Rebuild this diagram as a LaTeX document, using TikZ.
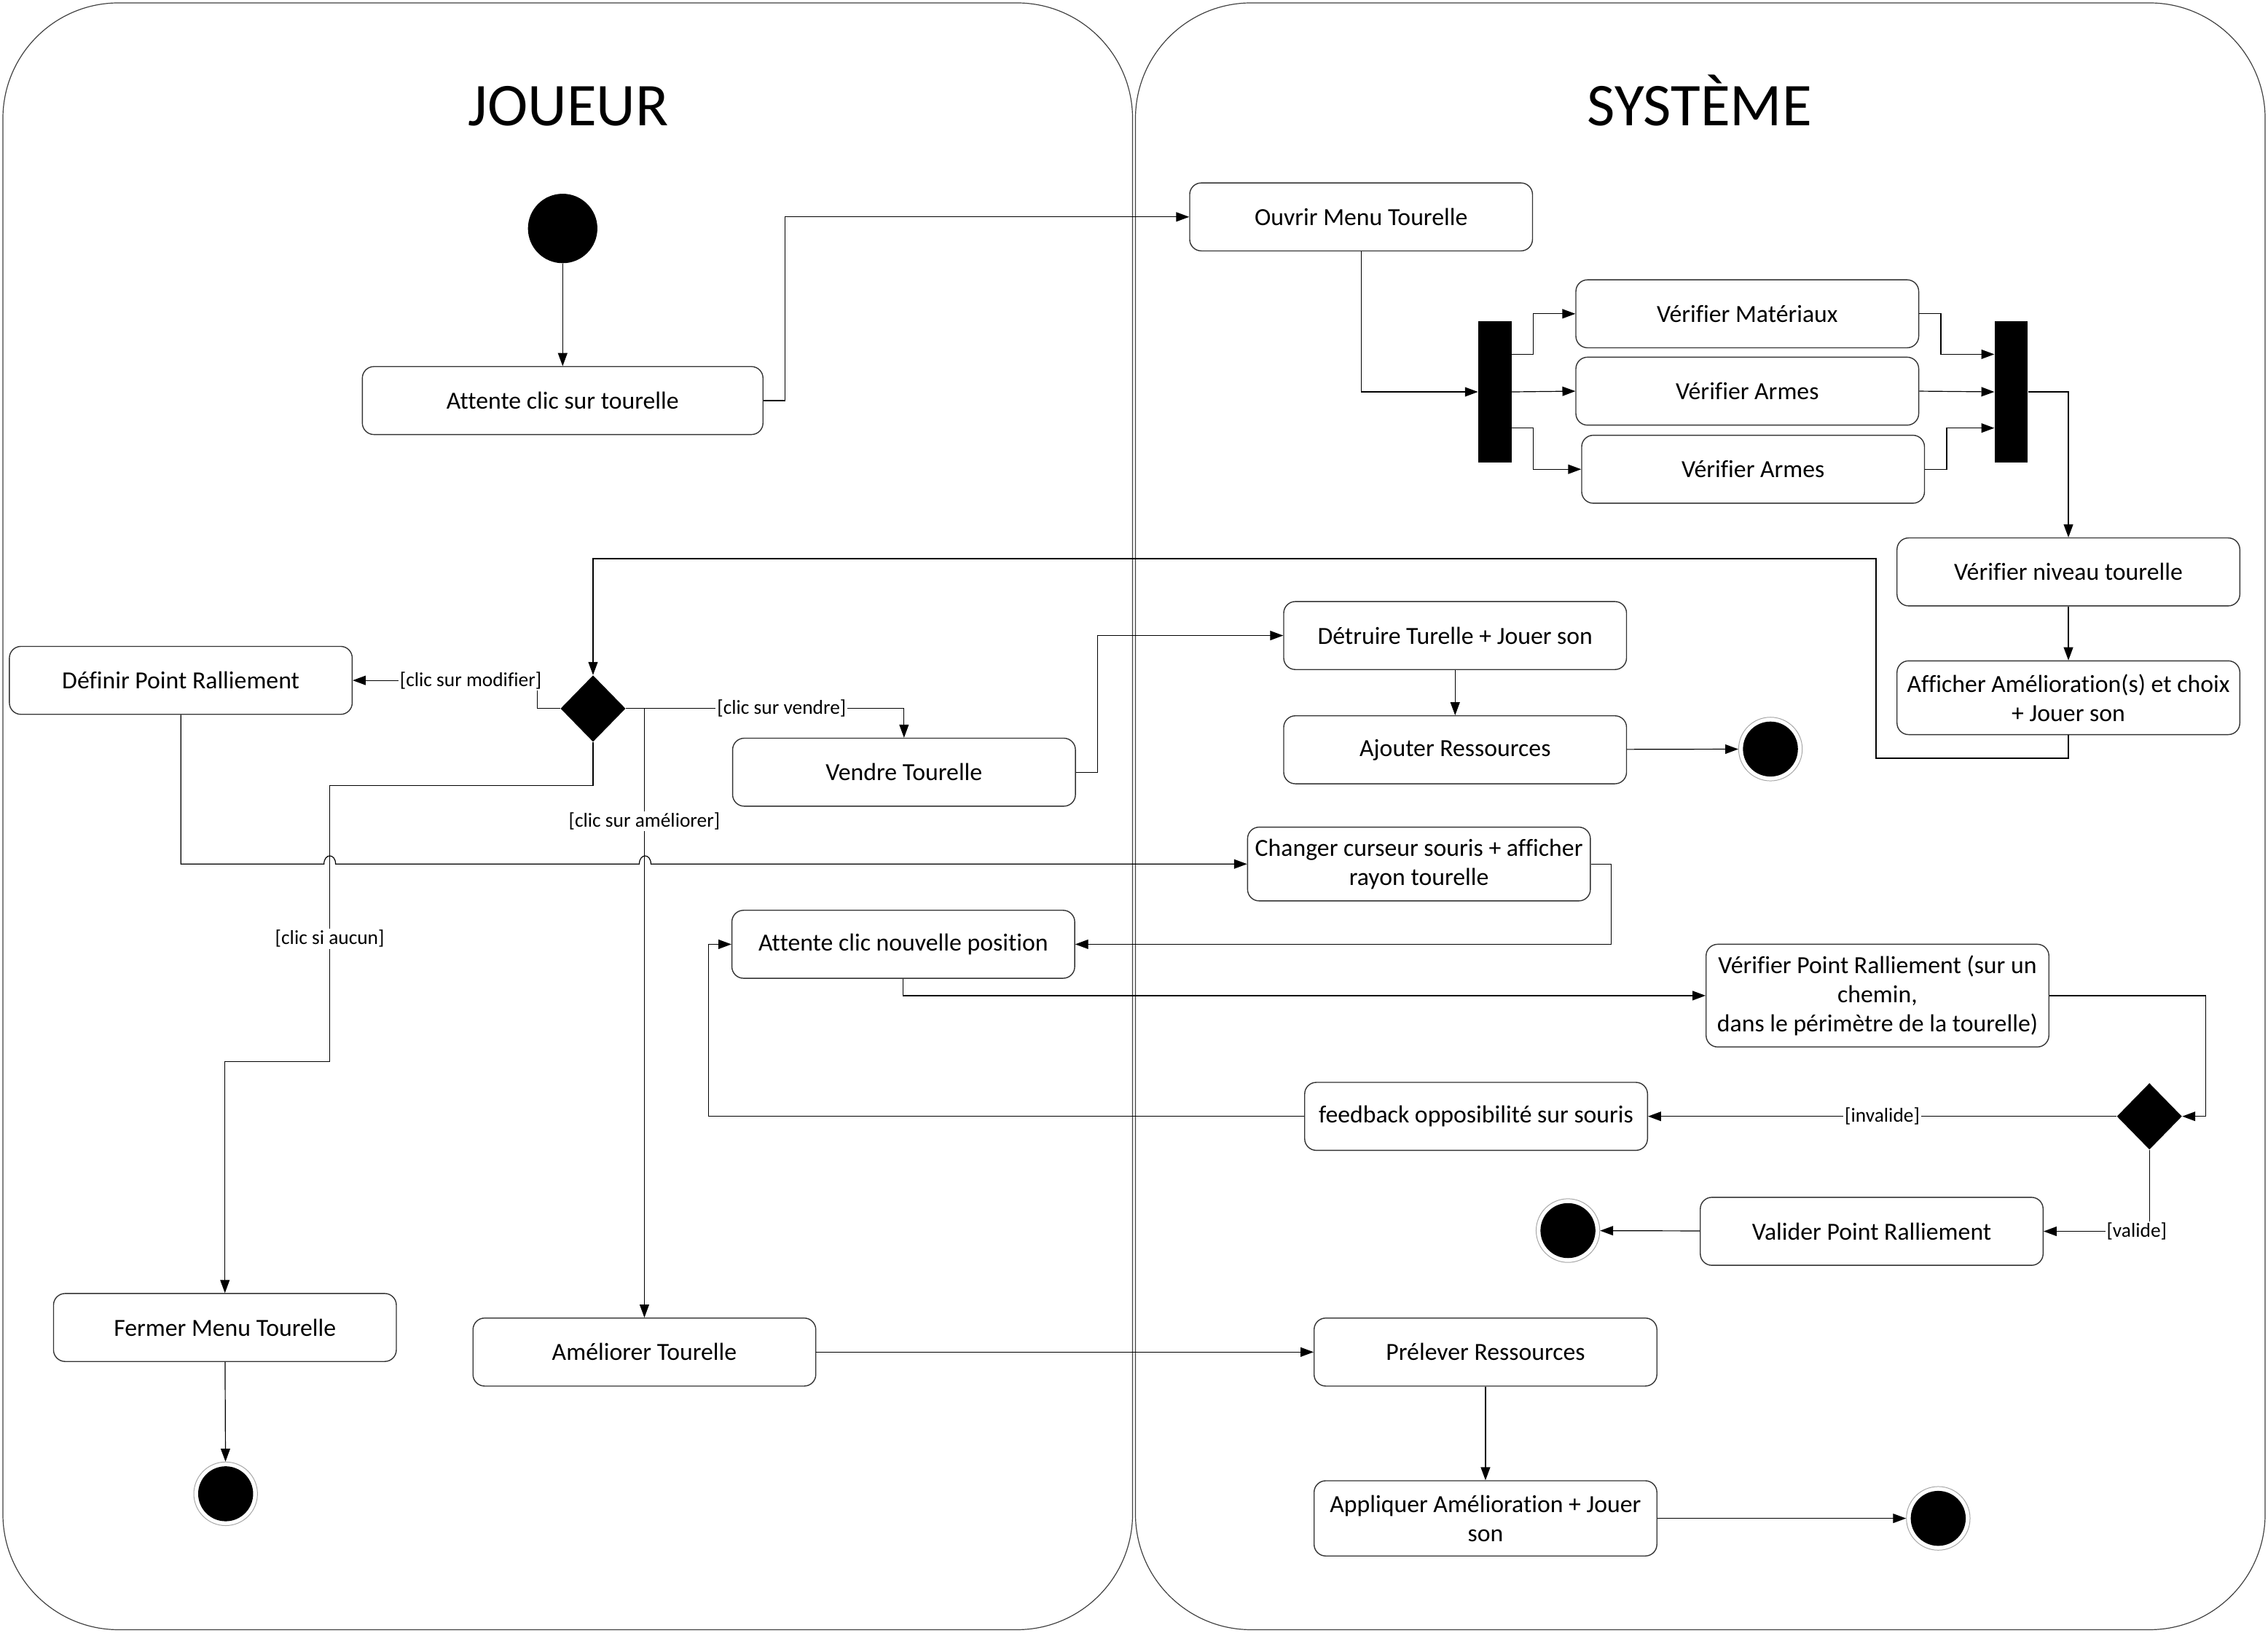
\documentclass[tikz,border=0pt]{standalone}
\usepackage{fontspec}
\setmainfont[Ligatures=NoCommon]{Carlito}
\usetikzlibrary{arrows.meta,shapes.geometric}
\tikzset{
  act/.style={draw=black!80, line width=0.7pt, rounded corners=8pt, fill=white,
    minimum width=237pt, minimum height=47pt, align=center, inner sep=2pt,
    font=\fontsize{17}{20}\selectfont},
  bar/.style={fill=black, minimum width=23pt, minimum height=98pt, inner sep=0pt},
  dec/.style={diamond, fill=black, minimum width=45pt, minimum height=46pt, inner sep=0pt},
  ini/.style={circle, fill=black, minimum size=48pt, inner sep=0pt},
  fin/.style={circle, draw=black!35, line width=0.5pt, fill=white, minimum size=44pt, inner sep=0pt,
    path picture={\fill[black] (path picture bounding box.center) circle (19pt);}},
  lbl/.style={fill=white, inner sep=1pt, font=\fontsize{13.8}{15}\selectfont},
  lane/.style={draw=black!75, line width=0.6pt, rounded corners=80pt},
  title/.style={anchor=base, font=\fontsize{42}{48}\selectfont},
  arr/.style={line width=0.6pt, -{Triangle[length=9pt,width=6.5pt]}},
}
\begin{document}
\begin{tikzpicture}[x=1pt,y=-1pt]
  \useasboundingbox (0,0) rectangle (1568,1129);
  % swimlanes
  \draw[lane] (2,2) rectangle (783,1127);
  \draw[lane] (785,2) rectangle (1566,1127);
  \node[title] (joueur) at (393,87) {JOUEUR};
  \node[title] (systeme) at (1175,87) {SYSTÈME};

  % joueur
  \node[ini] (start) at (389,158) {};
  \node[act, minimum width=277pt] (attente) at (389,277) {Attente clic sur tourelle};
  \node[dec] (choix) at (410,490) {};
  \node[act] (definir) at (125,470.5) {Définir Point Ralliement};
  \node[act] (vendre) at (625,534) {Vendre Tourelle};
  \node[act] (attpos) at (624.5,653) {Attente clic nouvelle position};
  \node[act] (fermer) at (155.5,918) {Fermer Menu Tourelle};
  \node[fin] (fin1) at (156,1033) {};
  \node[act] (ameliorer) at (445.5,935) {Améliorer Tourelle};

  % systeme
  \node[act] (ouvrir) at (941,150) {Ouvrir Menu Tourelle};
  \node[bar] (fork) at (1033.5,271) {};
  \node[act] (mat) at (1208,217) {Vérifier Matériaux};
  \node[act] (arm1) at (1208,270.5) {Vérifier Armes};
  \node[act] (arm2) at (1212,324.5) {Vérifier Armes};
  \node[bar] (join) at (1390.5,271) {};
  \node[act] (niveau) at (1430,395.5) {Vérifier niveau tourelle};
  \node[act, minimum height=51pt] (afficher) at (1430,482.5) {Afficher Amélioration(s) et choix\\+ Jouer son};
  \node[act] (detruire) at (1006,439.5) {Détruire Turelle + Jouer son};
  \node[act] (ajouter) at (1006,518.5) {Ajouter Ressources};
  \node[fin] (fin2) at (1224,518) {};
  \node[act, minimum height=51pt] (changer) at (981,597.5) {Changer curseur souris + afficher\\rayon tourelle};
  \node[act, minimum height=71pt] (verpt) at (1298,688.5) {Vérifier Point Ralliement (sur un\\chemin,\\dans le périmètre de la tourelle)};
  \node[dec] (valide) at (1486,772) {};
  \node[act] (feedback) at (1020.5,772) {feedback opposibilité sur souris};
  \node[act] (valider) at (1294,851.5) {Valider Point Ralliement};
  \node[fin] (fin3) at (1084,851) {};
  \node[act] (prelever) at (1027,935) {Prélever Ressources};
  \node[act, minimum height=52pt] (appliquer) at (1027,1050) {Appliquer Amélioration + Jouer\\son};
  \node[fin] (fin4) at (1340,1050) {};

  % flow
  \draw[arr] (start) -- (attente);
  \draw[arr] (attente.east) -- ++(15,0) |- (ouvrir.west);
  \draw[arr] (ouvrir.south) |- (fork.west);
  \draw[arr] ([yshift=26pt]fork.east) -- ++(15,0) |- (mat.west);
  \draw[arr] (fork.east) -- (arm1.west);
  \draw[arr] ([yshift=-25pt]fork.east) -- ++(15,0) |- (arm2.west);
  \draw[arr] (mat.east) -- ++(15,0) |- ([yshift=26pt]join.west);
  \draw[arr] (arm1.east) -- (join.west);
  \draw[arr] (arm2.east) -- ++(15,0) |- ([yshift=-25pt]join.west);
  \draw[arr] (join.east) -| (niveau.north);
  \draw[arr] (niveau) -- (afficher);
  \draw[arr] (afficher.south) -- ++(0,16) -- ++(-133,0) -- ++(0,-138) -| (choix.north);

  % choix
  \draw[arr] (choix.west) -- ++(-16,0) |- node[lbl, pos=0.68] {[clic sur modifier]} (definir.east);
  \draw[arr] (choix.east) -| node[lbl, pos=0.28] {[clic sur vendre]} (vendre.north);
  \draw[arr] (choix.east) -- (choix.east -| ameliorer.north) -- node[lbl, pos=0.185] {[clic sur améliorer]} (ameliorer.north);
  \draw[arr] (choix.south) -- ++(0,30) -- ++(-182,0) -- node[lbl, pos=0.555] {[clic si aucun]} ++(0,191) -| (fermer.north);
  \draw[arr] (fermer) -- (fin1);

  % vendre
  \draw[arr] (vendre.east) -- ++(15,0) |- (detruire.west);
  \draw[arr] (detruire) -- (ajouter);
  \draw[arr] (ajouter) -- (fin2);

  % point de ralliement
  \draw[arr] (definir.south) |- (224,597.5) .. controls (224,590) and (232,590) .. (232,597.5)
    -- (442,597.5) .. controls (442,590) and (450,590) .. (450,597.5) -- (changer.west);
  \draw[arr] (changer.east) -- ++(14,0) |- (attpos.east);
  \draw[arr] (attpos.south) |- (verpt.west);
  \draw[arr] (verpt.east) -- ++(108,0) |- (valide.east);
  \draw[arr] (valide.west) -- node[lbl] {[invalide]} (feedback.east);
  \draw[arr] (feedback.west) -- ++(-412,0) |- (attpos.west);
  \draw[arr] (valide.south) |- node[lbl, pos=0.56] {[valide]} (valider.east);
  \draw[arr] (valider) -- (fin3);

  % ameliorer
  \draw[arr] (ameliorer.east) -- (prelever.west);
  \draw[arr] (prelever) -- (appliquer);
  \draw[arr] (appliquer) -- (fin4);
\end{tikzpicture}
\end{document}
